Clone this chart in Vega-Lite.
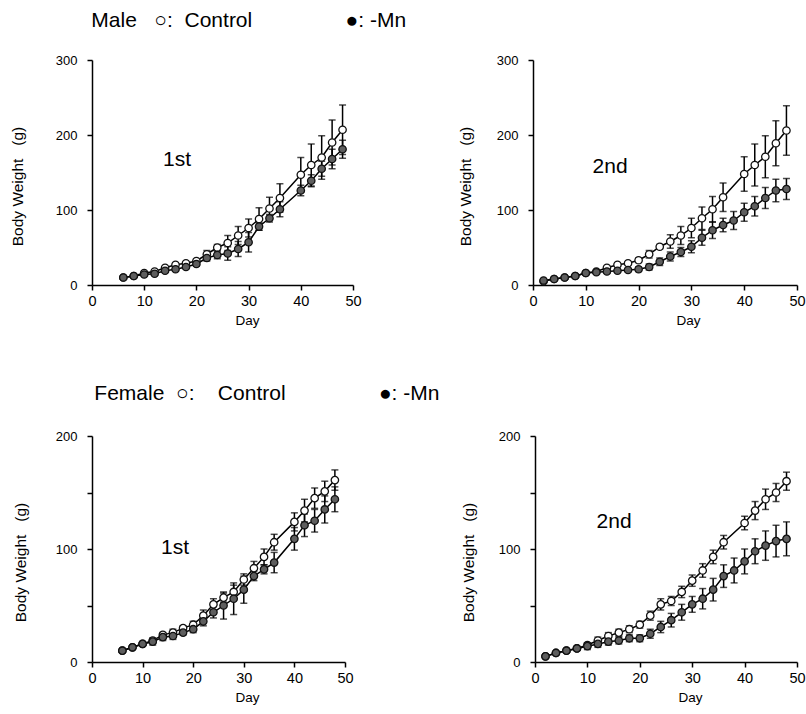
{
"$schema": "https://vega.github.io/schema/vega-lite/v6.json",
"padding": {"left": 10, "top": 10, "right": 5, "bottom": 5},
"spacing": 56,
"config": {
  "view": {"stroke": null},
  "font": "Liberation Sans",
  "axis": {"domainColor": "black", "tickColor": "black", "labelColor": "black", "titleColor": "black", "domainWidth": 1.5, "tickWidth": 1.5, "tickSize": 5, "titleFontWeight": "normal", "grid": false, "labelFont": "Liberation Sans", "titleFont": "Liberation Sans", "labelOverlap": false},
  "axisX": {"titlePadding": 6, "labelPadding": 4, "titleX": 155, "labelFlush": false, "labelFontSize": 14.5, "titleFontSize": 13.5},
  "axisY": {"titlePadding": 30, "labelPadding": 10, "titleY": 126, "labelFontSize": 13, "titleFontSize": 15.5},
  "title": {"font": "Liberation Sans", "fontSize": 21, "fontWeight": "normal", "color": "black", "anchor": "start", "dx": 81, "offset": 23}
},
"datasets": {
  "labels": [
    {"panel": "M1", "label": "1st", "day": 16.3, "weight": 159},
    {"panel": "M2", "label": "2nd", "day": 14.6, "weight": 149},
    {"panel": "F1", "label": "1st", "day": 16.4, "weight": 95.6},
    {"panel": "F2", "label": "2nd", "day": 15.1, "weight": 118.6}
  ],
  "d": [
    {"panel":"M1","group":"Control","day":6,"weight":10,"sd":1},
    {"panel":"M1","group":"Control","day":8,"weight":12,"sd":1},
    {"panel":"M1","group":"Control","day":10,"weight":16,"sd":1},
    {"panel":"M1","group":"Control","day":12,"weight":18,"sd":1},
    {"panel":"M1","group":"Control","day":14,"weight":23,"sd":1.5},
    {"panel":"M1","group":"Control","day":16,"weight":27,"sd":2},
    {"panel":"M1","group":"Control","day":18,"weight":29,"sd":2},
    {"panel":"M1","group":"Control","day":20,"weight":32,"sd":3},
    {"panel":"M1","group":"Control","day":22,"weight":41,"sd":5},
    {"panel":"M1","group":"Control","day":24,"weight":50,"sd":4},
    {"panel":"M1","group":"Control","day":26,"weight":56,"sd":10},
    {"panel":"M1","group":"Control","day":28,"weight":66,"sd":12},
    {"panel":"M1","group":"Control","day":30,"weight":76,"sd":12},
    {"panel":"M1","group":"Control","day":32,"weight":88,"sd":15},
    {"panel":"M1","group":"Control","day":34,"weight":102,"sd":15},
    {"panel":"M1","group":"Control","day":36,"weight":116,"sd":19},
    {"panel":"M1","group":"Control","day":40,"weight":147,"sd":23},
    {"panel":"M1","group":"Control","day":42,"weight":160,"sd":28},
    {"panel":"M1","group":"Control","day":44,"weight":170,"sd":29},
    {"panel":"M1","group":"Control","day":46,"weight":190,"sd":30},
    {"panel":"M1","group":"Control","day":48,"weight":207,"sd":33},
    {"panel":"M1","group":"Mn","day":6,"weight":10,"sd":1},
    {"panel":"M1","group":"Mn","day":8,"weight":12,"sd":1},
    {"panel":"M1","group":"Mn","day":10,"weight":14,"sd":1},
    {"panel":"M1","group":"Mn","day":12,"weight":15,"sd":2},
    {"panel":"M1","group":"Mn","day":14,"weight":19,"sd":2},
    {"panel":"M1","group":"Mn","day":16,"weight":21,"sd":2},
    {"panel":"M1","group":"Mn","day":18,"weight":24,"sd":2},
    {"panel":"M1","group":"Mn","day":20,"weight":28,"sd":3},
    {"panel":"M1","group":"Mn","day":22,"weight":36,"sd":4},
    {"panel":"M1","group":"Mn","day":24,"weight":40,"sd":5},
    {"panel":"M1","group":"Mn","day":26,"weight":42,"sd":9},
    {"panel":"M1","group":"Mn","day":28,"weight":48,"sd":10},
    {"panel":"M1","group":"Mn","day":30,"weight":57,"sd":13},
    {"panel":"M1","group":"Mn","day":32,"weight":78,"sd":5},
    {"panel":"M1","group":"Mn","day":34,"weight":89,"sd":5},
    {"panel":"M1","group":"Mn","day":36,"weight":101,"sd":10},
    {"panel":"M1","group":"Mn","day":40,"weight":126,"sd":7},
    {"panel":"M1","group":"Mn","day":42,"weight":139,"sd":8},
    {"panel":"M1","group":"Mn","day":44,"weight":155,"sd":10},
    {"panel":"M1","group":"Mn","day":46,"weight":168,"sd":13},
    {"panel":"M1","group":"Mn","day":48,"weight":181,"sd":12},
    {"panel":"M2","group":"Control","day":2,"weight":5,"sd":1},
    {"panel":"M2","group":"Control","day":4,"weight":8,"sd":1},
    {"panel":"M2","group":"Control","day":6,"weight":10,"sd":1},
    {"panel":"M2","group":"Control","day":8,"weight":12,"sd":1},
    {"panel":"M2","group":"Control","day":10,"weight":16,"sd":1},
    {"panel":"M2","group":"Control","day":12,"weight":18,"sd":1.5},
    {"panel":"M2","group":"Control","day":14,"weight":23,"sd":2},
    {"panel":"M2","group":"Control","day":16,"weight":27,"sd":2},
    {"panel":"M2","group":"Control","day":18,"weight":29,"sd":2},
    {"panel":"M2","group":"Control","day":20,"weight":33,"sd":3},
    {"panel":"M2","group":"Control","day":22,"weight":41,"sd":5},
    {"panel":"M2","group":"Control","day":24,"weight":51,"sd":3},
    {"panel":"M2","group":"Control","day":26,"weight":58,"sd":9},
    {"panel":"M2","group":"Control","day":28,"weight":66,"sd":12},
    {"panel":"M2","group":"Control","day":30,"weight":76,"sd":13},
    {"panel":"M2","group":"Control","day":32,"weight":89,"sd":15},
    {"panel":"M2","group":"Control","day":34,"weight":101,"sd":17},
    {"panel":"M2","group":"Control","day":36,"weight":117,"sd":19},
    {"panel":"M2","group":"Control","day":40,"weight":148,"sd":23},
    {"panel":"M2","group":"Control","day":42,"weight":160,"sd":28},
    {"panel":"M2","group":"Control","day":44,"weight":171,"sd":28},
    {"panel":"M2","group":"Control","day":46,"weight":189,"sd":30},
    {"panel":"M2","group":"Control","day":48,"weight":206,"sd":33},
    {"panel":"M2","group":"Mn","day":2,"weight":6,"sd":1},
    {"panel":"M2","group":"Mn","day":4,"weight":8,"sd":1},
    {"panel":"M2","group":"Mn","day":6,"weight":10,"sd":1},
    {"panel":"M2","group":"Mn","day":8,"weight":12,"sd":1},
    {"panel":"M2","group":"Mn","day":10,"weight":16,"sd":1},
    {"panel":"M2","group":"Mn","day":12,"weight":17,"sd":2},
    {"panel":"M2","group":"Mn","day":14,"weight":18,"sd":2},
    {"panel":"M2","group":"Mn","day":16,"weight":19,"sd":2},
    {"panel":"M2","group":"Mn","day":18,"weight":20,"sd":2},
    {"panel":"M2","group":"Mn","day":20,"weight":21,"sd":3},
    {"panel":"M2","group":"Mn","day":22,"weight":24,"sd":4},
    {"panel":"M2","group":"Mn","day":24,"weight":31,"sd":5},
    {"panel":"M2","group":"Mn","day":26,"weight":38,"sd":6},
    {"panel":"M2","group":"Mn","day":28,"weight":44,"sd":6},
    {"panel":"M2","group":"Mn","day":30,"weight":51,"sd":8},
    {"panel":"M2","group":"Mn","day":32,"weight":63,"sd":10},
    {"panel":"M2","group":"Mn","day":34,"weight":73,"sd":11},
    {"panel":"M2","group":"Mn","day":36,"weight":80,"sd":9},
    {"panel":"M2","group":"Mn","day":38,"weight":86,"sd":12},
    {"panel":"M2","group":"Mn","day":40,"weight":97,"sd":12},
    {"panel":"M2","group":"Mn","day":42,"weight":105,"sd":13},
    {"panel":"M2","group":"Mn","day":44,"weight":116,"sd":14},
    {"panel":"M2","group":"Mn","day":46,"weight":126,"sd":15},
    {"panel":"M2","group":"Mn","day":48,"weight":128,"sd":14},
    {"panel":"F1","group":"Control","day":6,"weight":10,"sd":1},
    {"panel":"F1","group":"Control","day":8,"weight":13,"sd":1},
    {"panel":"F1","group":"Control","day":10,"weight":16,"sd":1},
    {"panel":"F1","group":"Control","day":12,"weight":19,"sd":2},
    {"panel":"F1","group":"Control","day":14,"weight":24,"sd":2},
    {"panel":"F1","group":"Control","day":16,"weight":26,"sd":3},
    {"panel":"F1","group":"Control","day":18,"weight":30,"sd":2},
    {"panel":"F1","group":"Control","day":20,"weight":33,"sd":3},
    {"panel":"F1","group":"Control","day":22,"weight":41,"sd":5},
    {"panel":"F1","group":"Control","day":24,"weight":51,"sd":5},
    {"panel":"F1","group":"Control","day":26,"weight":57,"sd":4},
    {"panel":"F1","group":"Control","day":28,"weight":62,"sd":6},
    {"panel":"F1","group":"Control","day":30,"weight":73,"sd":5},
    {"panel":"F1","group":"Control","day":32,"weight":83,"sd":6},
    {"panel":"F1","group":"Control","day":34,"weight":93,"sd":7},
    {"panel":"F1","group":"Control","day":36,"weight":106,"sd":7},
    {"panel":"F1","group":"Control","day":40,"weight":124,"sd":8},
    {"panel":"F1","group":"Control","day":42,"weight":134,"sd":10},
    {"panel":"F1","group":"Control","day":44,"weight":145,"sd":9},
    {"panel":"F1","group":"Control","day":46,"weight":151,"sd":9},
    {"panel":"F1","group":"Control","day":48,"weight":161,"sd":9},
    {"panel":"F1","group":"Mn","day":6,"weight":10,"sd":1},
    {"panel":"F1","group":"Mn","day":8,"weight":13,"sd":1},
    {"panel":"F1","group":"Mn","day":10,"weight":16,"sd":1},
    {"panel":"F1","group":"Mn","day":12,"weight":18,"sd":3},
    {"panel":"F1","group":"Mn","day":14,"weight":22,"sd":3},
    {"panel":"F1","group":"Mn","day":16,"weight":23,"sd":3},
    {"panel":"F1","group":"Mn","day":18,"weight":26,"sd":2},
    {"panel":"F1","group":"Mn","day":20,"weight":29,"sd":3},
    {"panel":"F1","group":"Mn","day":22,"weight":36,"sd":4},
    {"panel":"F1","group":"Mn","day":24,"weight":44,"sd":5},
    {"panel":"F1","group":"Mn","day":26,"weight":50,"sd":12},
    {"panel":"F1","group":"Mn","day":28,"weight":56,"sd":14},
    {"panel":"F1","group":"Mn","day":30,"weight":64,"sd":12},
    {"panel":"F1","group":"Mn","day":32,"weight":76,"sd":4},
    {"panel":"F1","group":"Mn","day":34,"weight":82,"sd":4},
    {"panel":"F1","group":"Mn","day":36,"weight":88,"sd":9},
    {"panel":"F1","group":"Mn","day":40,"weight":109,"sd":10},
    {"panel":"F1","group":"Mn","day":42,"weight":121,"sd":10},
    {"panel":"F1","group":"Mn","day":44,"weight":125,"sd":10},
    {"panel":"F1","group":"Mn","day":46,"weight":135,"sd":12},
    {"panel":"F1","group":"Mn","day":48,"weight":144,"sd":11},
    {"panel":"F2","group":"Control","day":2,"weight":5,"sd":1},
    {"panel":"F2","group":"Control","day":4,"weight":8,"sd":1},
    {"panel":"F2","group":"Control","day":6,"weight":10,"sd":1},
    {"panel":"F2","group":"Control","day":8,"weight":12,"sd":1},
    {"panel":"F2","group":"Control","day":10,"weight":15,"sd":2},
    {"panel":"F2","group":"Control","day":12,"weight":19,"sd":3},
    {"panel":"F2","group":"Control","day":14,"weight":23,"sd":3},
    {"panel":"F2","group":"Control","day":16,"weight":26,"sd":3},
    {"panel":"F2","group":"Control","day":18,"weight":29,"sd":3},
    {"panel":"F2","group":"Control","day":20,"weight":33,"sd":3},
    {"panel":"F2","group":"Control","day":22,"weight":41,"sd":4},
    {"panel":"F2","group":"Control","day":24,"weight":51,"sd":5},
    {"panel":"F2","group":"Control","day":26,"weight":54,"sd":4},
    {"panel":"F2","group":"Control","day":28,"weight":62,"sd":5},
    {"panel":"F2","group":"Control","day":30,"weight":72,"sd":5},
    {"panel":"F2","group":"Control","day":32,"weight":81,"sd":6},
    {"panel":"F2","group":"Control","day":34,"weight":93,"sd":6},
    {"panel":"F2","group":"Control","day":36,"weight":106,"sd":6},
    {"panel":"F2","group":"Control","day":40,"weight":123,"sd":6},
    {"panel":"F2","group":"Control","day":42,"weight":134,"sd":8},
    {"panel":"F2","group":"Control","day":44,"weight":144,"sd":9},
    {"panel":"F2","group":"Control","day":46,"weight":150,"sd":8},
    {"panel":"F2","group":"Control","day":48,"weight":160,"sd":8},
    {"panel":"F2","group":"Mn","day":2,"weight":5,"sd":1},
    {"panel":"F2","group":"Mn","day":4,"weight":8,"sd":1},
    {"panel":"F2","group":"Mn","day":6,"weight":10,"sd":1},
    {"panel":"F2","group":"Mn","day":8,"weight":12,"sd":1},
    {"panel":"F2","group":"Mn","day":10,"weight":14,"sd":3},
    {"panel":"F2","group":"Mn","day":12,"weight":16,"sd":3},
    {"panel":"F2","group":"Mn","day":14,"weight":18,"sd":3},
    {"panel":"F2","group":"Mn","day":16,"weight":19,"sd":3},
    {"panel":"F2","group":"Mn","day":18,"weight":21,"sd":3},
    {"panel":"F2","group":"Mn","day":20,"weight":21,"sd":3},
    {"panel":"F2","group":"Mn","day":22,"weight":25,"sd":4},
    {"panel":"F2","group":"Mn","day":24,"weight":31,"sd":5},
    {"panel":"F2","group":"Mn","day":26,"weight":37,"sd":6},
    {"panel":"F2","group":"Mn","day":28,"weight":44,"sd":7},
    {"panel":"F2","group":"Mn","day":30,"weight":51,"sd":7},
    {"panel":"F2","group":"Mn","day":32,"weight":56,"sd":9},
    {"panel":"F2","group":"Mn","day":34,"weight":64,"sd":10},
    {"panel":"F2","group":"Mn","day":36,"weight":76,"sd":10},
    {"panel":"F2","group":"Mn","day":38,"weight":81,"sd":11},
    {"panel":"F2","group":"Mn","day":40,"weight":89,"sd":11},
    {"panel":"F2","group":"Mn","day":42,"weight":98,"sd":11},
    {"panel":"F2","group":"Mn","day":44,"weight":103,"sd":13},
    {"panel":"F2","group":"Mn","day":46,"weight":107,"sd":14},
    {"panel":"F2","group":"Mn","day":48,"weight":109,"sd":15}
  ]
},
"vconcat": [
 {
  "title": {"text": "Male\u00a0\u00a0\u00a0○:\u00a0\u00a0Control\u00a0\u00a0\u00a0\u00a0\u00a0\u00a0\u00a0\u00a0\u00a0\u00a0\u00a0\u00a0\u00a0\u00a0\u00a0\u00a0●: -Mn"},
  "spacing": 96,
  "hconcat": [
   {
    "width": 261, "height": 225,
    "layer": [
     {"data": {"name": "d"}, "transform": [{"filter": "datum.panel == 'M1'"}],
      "mark": {"type": "errorbar", "color": "black", "ticks": {"size": 7, "thickness": 1.5}, "rule": {"strokeWidth": 1.5}},
      "encoding": {
        "x": {"field": "day", "type": "quantitative", "scale": {"domain": [0, 50], "nice": false}, "axis": {"title": "Day", "values": [0,5,10,15,20,25,30,35,40,45,50], "labelExpr": "datum.value % 10 == 0 ? datum.label : ''"}},
        "y": {"field": "weight", "type": "quantitative", "scale": {"domain": [0, 300], "nice": false}, "axis": {"title": "Body Weight\u00a0\u00a0\u00a0(g)", "titlePadding": 30, "values": [0,50,100,150,200,250,300], "labelExpr": "datum.value % 100 == 0 ? datum.label : ''"}},
        "yError": {"field": "sd"}}},
     {"data": {"name": "d"}, "transform": [{"filter": "datum.panel == 'M1'"}],
      "mark": {"type": "line", "color": "black", "strokeWidth": 1.5},
      "encoding": {"x": {"field": "day", "type": "quantitative"}, "y": {"field": "weight", "type": "quantitative"}, "detail": {"field": "group"}}},
     {"data": {"name": "d"}, "transform": [{"filter": "datum.panel == 'M1'"}],
      "mark": {"type": "point", "shape": "circle", "size": 55, "opacity": 1, "filled": false, "stroke": "#111", "strokeWidth": 1.3},
      "encoding": {"x": {"field": "day", "type": "quantitative"}, "y": {"field": "weight", "type": "quantitative"}, "fill": {"field": "group", "type": "nominal", "scale": {"domain": ["Control", "Mn"], "range": ["white", "#5e5e5e"]}, "legend": null}}},
     {"data": {"name": "labels"}, "transform": [{"filter": "datum.panel == 'M1'"}],
      "mark": {"type": "text", "fontSize": 21, "align": "center", "baseline": "alphabetic", "color": "black"},
      "encoding": {"x": {"field": "day", "type": "quantitative"}, "y": {"field": "weight", "type": "quantitative"}, "text": {"field": "label"}}}
    ]
   },
   {
    "width": 264, "height": 225,
    "layer": [
     {"data": {"name": "d"}, "transform": [{"filter": "datum.panel == 'M2'"}],
      "mark": {"type": "errorbar", "color": "black", "ticks": {"size": 7, "thickness": 1.5}, "rule": {"strokeWidth": 1.5}},
      "encoding": {
        "x": {"field": "day", "type": "quantitative", "scale": {"domain": [0, 50], "nice": false}, "axis": {"title": "Day", "values": [0,5,10,15,20,25,30,35,40,45,50], "labelExpr": "datum.value % 10 == 0 ? datum.label : ''"}},
        "y": {"field": "weight", "type": "quantitative", "scale": {"domain": [0, 300], "nice": false}, "axis": {"title": "Body Weight\u00a0\u00a0\u00a0(g)", "titlePadding": 23, "values": [0,50,100,150,200,250,300], "labelExpr": "datum.value % 100 == 0 ? datum.label : ''"}},
        "yError": {"field": "sd"}}},
     {"data": {"name": "d"}, "transform": [{"filter": "datum.panel == 'M2'"}],
      "mark": {"type": "line", "color": "black", "strokeWidth": 1.5},
      "encoding": {"x": {"field": "day", "type": "quantitative"}, "y": {"field": "weight", "type": "quantitative"}, "detail": {"field": "group"}}},
     {"data": {"name": "d"}, "transform": [{"filter": "datum.panel == 'M2'"}],
      "mark": {"type": "point", "shape": "circle", "size": 55, "opacity": 1, "filled": false, "stroke": "#111", "strokeWidth": 1.3},
      "encoding": {"x": {"field": "day", "type": "quantitative"}, "y": {"field": "weight", "type": "quantitative"}, "fill": {"field": "group", "type": "nominal", "scale": {"domain": ["Control", "Mn"], "range": ["white", "#5e5e5e"]}, "legend": null}}},
     {"data": {"name": "labels"}, "transform": [{"filter": "datum.panel == 'M2'"}],
      "mark": {"type": "text", "fontSize": 21, "align": "center", "baseline": "alphabetic", "color": "black"},
      "encoding": {"x": {"field": "day", "type": "quantitative"}, "y": {"field": "weight", "type": "quantitative"}, "text": {"field": "label"}}}
    ]
   }
  ]
 },
 {
  "title": {"text": "Female\u00a0\u00a0○:\u00a0\u00a0\u00a0\u00a0Control\u00a0\u00a0\u00a0\u00a0\u00a0\u00a0\u00a0\u00a0\u00a0\u00a0\u00a0\u00a0\u00a0\u00a0\u00a0\u00a0●: -Mn", "offset": 26},
  "spacing": 107,
  "hconcat": [
   {
    "width": 253, "height": 226,
    "layer": [
     {"data": {"name": "d"}, "transform": [{"filter": "datum.panel == 'F1'"}],
      "mark": {"type": "errorbar", "color": "black", "ticks": {"size": 7, "thickness": 1.5}, "rule": {"strokeWidth": 1.5}},
      "encoding": {
        "x": {"field": "day", "type": "quantitative", "scale": {"domain": [0, 50], "nice": false}, "axis": {"title": "Day", "values": [0,5,10,15,20,25,30,35,40,45,50], "labelExpr": "datum.value % 10 == 0 ? datum.label : ''"}},
        "y": {"field": "weight", "type": "quantitative", "scale": {"domain": [0, 200], "nice": false}, "axis": {"title": "Body Weight\u00a0\u00a0\u00a0(g)", "titlePadding": 27, "values": [0,50,100,150,200], "labelExpr": "datum.value % 100 == 0 ? datum.label : ''"}},
        "yError": {"field": "sd"}}},
     {"data": {"name": "d"}, "transform": [{"filter": "datum.panel == 'F1'"}],
      "mark": {"type": "line", "color": "black", "strokeWidth": 1.5},
      "encoding": {"x": {"field": "day", "type": "quantitative"}, "y": {"field": "weight", "type": "quantitative"}, "detail": {"field": "group"}}},
     {"data": {"name": "d"}, "transform": [{"filter": "datum.panel == 'F1'"}],
      "mark": {"type": "point", "shape": "circle", "size": 55, "opacity": 1, "filled": false, "stroke": "#111", "strokeWidth": 1.3},
      "encoding": {"x": {"field": "day", "type": "quantitative"}, "y": {"field": "weight", "type": "quantitative"}, "fill": {"field": "group", "type": "nominal", "scale": {"domain": ["Control", "Mn"], "range": ["white", "#5e5e5e"]}, "legend": null}}},
     {"data": {"name": "labels"}, "transform": [{"filter": "datum.panel == 'F1'"}],
      "mark": {"type": "text", "fontSize": 21, "align": "center", "baseline": "alphabetic", "color": "black"},
      "encoding": {"x": {"field": "day", "type": "quantitative"}, "y": {"field": "weight", "type": "quantitative"}, "text": {"field": "label"}}}
    ]
   },
   {
    "width": 262, "height": 226,
    "layer": [
     {"data": {"name": "d"}, "transform": [{"filter": "datum.panel == 'F2'"}],
      "mark": {"type": "errorbar", "color": "black", "ticks": {"size": 7, "thickness": 1.5}, "rule": {"strokeWidth": 1.5}},
      "encoding": {
        "x": {"field": "day", "type": "quantitative", "scale": {"domain": [0, 50], "nice": false}, "axis": {"title": "Day", "values": [0,5,10,15,20,25,30,35,40,45,50], "labelExpr": "datum.value % 10 == 0 ? datum.label : ''"}},
        "y": {"field": "weight", "type": "quantitative", "scale": {"domain": [0, 200], "nice": false}, "axis": {"title": "Body Weight\u00a0\u00a0\u00a0(g)", "titlePadding": 22, "values": [0,50,100,150,200], "labelExpr": "datum.value % 100 == 0 ? datum.label : ''"}},
        "yError": {"field": "sd"}}},
     {"data": {"name": "d"}, "transform": [{"filter": "datum.panel == 'F2'"}],
      "mark": {"type": "line", "color": "black", "strokeWidth": 1.5},
      "encoding": {"x": {"field": "day", "type": "quantitative"}, "y": {"field": "weight", "type": "quantitative"}, "detail": {"field": "group"}}},
     {"data": {"name": "d"}, "transform": [{"filter": "datum.panel == 'F2'"}],
      "mark": {"type": "point", "shape": "circle", "size": 55, "opacity": 1, "filled": false, "stroke": "#111", "strokeWidth": 1.3},
      "encoding": {"x": {"field": "day", "type": "quantitative"}, "y": {"field": "weight", "type": "quantitative"}, "fill": {"field": "group", "type": "nominal", "scale": {"domain": ["Control", "Mn"], "range": ["white", "#5e5e5e"]}, "legend": null}}},
     {"data": {"name": "labels"}, "transform": [{"filter": "datum.panel == 'F2'"}],
      "mark": {"type": "text", "fontSize": 21, "align": "center", "baseline": "alphabetic", "color": "black"},
      "encoding": {"x": {"field": "day", "type": "quantitative"}, "y": {"field": "weight", "type": "quantitative"}, "text": {"field": "label"}}}
    ]
   }
  ]
 }
]
}
